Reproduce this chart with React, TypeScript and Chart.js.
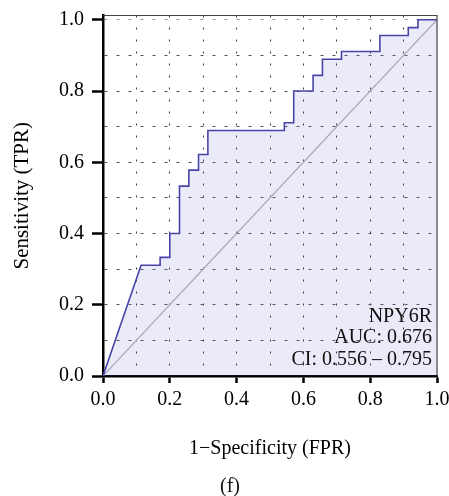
import React, { useEffect, useRef } from "react";
import { Chart, registerables } from "chart.js";

Chart.register(...registerables);

// ROC curve (step points)
const FPR = [0, 0.114, 0.171, 0.171, 0.2, 0.2, 0.229, 0.229, 0.257, 0.257, 0.286, 0.286, 0.314, 0.314, 0.543, 0.543, 0.571, 0.571, 0.629, 0.629, 0.657, 0.657, 0.714, 0.714, 0.829, 0.829, 0.914, 0.914, 0.943, 0.943, 1];
const TPR = [0, 0.311, 0.311, 0.333, 0.333, 0.4, 0.4, 0.533, 0.533, 0.578, 0.578, 0.622, 0.622, 0.689, 0.689, 0.711, 0.711, 0.8, 0.8, 0.844, 0.844, 0.889, 0.889, 0.911, 0.911, 0.956, 0.956, 0.978, 0.978, 1, 1];

// Chance diagonal
const DIAG_FPR = [0, 1];
const DIAG_TPR = [0, 1];

// Grid / tick positions and labelled ticks
const GRID_TICKS = [0, 0.1, 0.2, 0.3, 0.4, 0.5, 0.6, 0.7, 0.8, 0.9, 1.0];
const LABEL_TICKS = [0, 0.2, 0.4, 0.6, 0.8, 1.0];

const ANNOTATION = ["NPY6R", "AUC: 0.676", "CI: 0.556 \u2013 0.795"];
const X_TITLE = "1\u2212Specificity (FPR)";
const Y_TITLE = "Sensitivity (TPR)";
const PANEL_LABEL = "(f)";

const FONT = "'Liberation Serif', 'Times New Roman', serif";

const isMajor = (v: number) => LABEL_TICKS.some((t) => Math.abs(t - v) < 1e-6);

const framePlugin = {
  id: "frameAndText",
  afterDatasetsDraw(chart: any) {
    const { ctx, chartArea: a } = chart;
    ctx.save();
    ctx.strokeStyle = "#444";
    ctx.lineWidth = 1.2;
    ctx.setLineDash([]);
    ctx.beginPath();
    ctx.moveTo(a.left, a.top);
    ctx.lineTo(a.right, a.top);
    ctx.lineTo(a.right, a.bottom);
    ctx.stroke();

    ctx.fillStyle = "#111";
    ctx.font = `20px ${FONT}`;
    ctx.textAlign = "right";
    ctx.textBaseline = "alphabetic";
    ANNOTATION.forEach((t, i) => {
      ctx.fillText(t, a.right - 5, a.bottom - 54.5 + i * 21.7);
    });

    ctx.textAlign = "center";
    ctx.fillText(PANEL_LABEL, 230, chart.height - 4);
    ctx.restore();
  },
};

export default function App() {
  const ref = useRef<HTMLCanvasElement | null>(null);

  useEffect(() => {
    if (!ref.current) return;
    const font = { family: FONT, size: 20 };
    const chart = new Chart(ref.current, {
      type: "line",
      data: {
        datasets: [
          {
            label: "ROC",
            data: FPR.map((x, i) => ({ x, y: TPR[i] })),
            borderColor: "rgb(72,68,168)",
            borderWidth: 1.6,
            backgroundColor: "rgba(100,90,210,0.13)",
            fill: "origin",
            pointRadius: 0,
            tension: 0,
          },
          {
            label: "Chance",
            data: DIAG_FPR.map((x, i) => ({ x, y: DIAG_TPR[i] })),
            borderColor: "rgb(175,170,192)",
            borderWidth: 1.3,
            fill: false,
            pointRadius: 0,
            tension: 0,
          },
        ],
      },
      options: {
        animation: false,
        responsive: false,
        devicePixelRatio: 1,
        layout: { padding: { top: 15.5, right: 12, left: 0, bottom: 0 } },
        plugins: {
          legend: { display: false },
          tooltip: { enabled: false },
          filler: { drawTime: "beforeDatasetsDraw" },
        },
        scales: {
          x: {
            type: "linear",
            min: 0,
            max: 1,
            afterBuildTicks: (s: any) => {
              s.ticks = GRID_TICKS.map((v) => ({ value: v }));
            },
            afterFit: (s: any) => {
              s.height = 120;
              s.paddingLeft = 0;
              s.paddingRight = 0;
            },
            grid: {
              color: (c: any) =>
                c.tick && c.tick.value > 1e-6 && c.tick.value < 1 - 1e-6 ? "#3a3a3a" : "rgba(0,0,0,0)",
              lineWidth: 1,
              tickLength: 7,
              tickWidth: 2.5,
              tickColor: (c: any) => (c.tick && isMajor(c.tick.value) ? "#000" : "rgba(0,0,0,0)"),
            },
            border: { display: true, color: "#000", width: 2.5, dash: [2, 10] },
            ticks: {
              padding: 5,
              color: "#000",
              font,
              autoSkip: false,
              maxRotation: 0,
              callback: (v: any) => (isMajor(Number(v)) ? Number(v).toFixed(1) : ""),
            },
            title: {
              display: true,
              text: X_TITLE,
              color: "#000",
              font,
              padding: { top: 0, bottom: 35 },
            },
          },
          y: {
            type: "linear",
            min: 0,
            max: 1.012,
            afterBuildTicks: (s: any) => {
              s.ticks = GRID_TICKS.map((v) => ({ value: v }));
            },
            afterFit: (s: any) => {
              s.width = 103;
              s.paddingTop = 0;
              s.paddingBottom = 0;
            },
            grid: {
              color: (c: any) =>
                c.tick && c.tick.value > 1e-6
                  ? c.tick.value > 1 - 1e-6
                    ? "#999"
                    : "#555"
                  : "rgba(0,0,0,0)",
              lineWidth: 1,
              tickLength: 11,
              tickWidth: 2.5,
              tickColor: (c: any) => (c.tick && isMajor(c.tick.value) ? "#000" : "rgba(0,0,0,0)"),
            },
            border: { display: true, color: "#000", width: 2.5, dash: [3, 9] },
            ticks: {
              padding: 8,
              color: "#000",
              font,
              autoSkip: false,
              callback: (v: any) => (isMajor(Number(v)) ? Number(v).toFixed(1) : ""),
            },
            title: {
              display: true,
              text: Y_TITLE,
              color: "#000",
              font: { family: FONT, size: 21 },
              padding: { top: 9.5, bottom: 0 },
            },
          },
        },
      },
      plugins: [framePlugin],
    } as any);
    return () => chart.destroy();
  }, []);

  return (
    <canvas
      ref={ref}
      width={449}
      height={496}
      style={{ position: "absolute", left: 0, top: 0, display: "block" }}
    />
  );
}
